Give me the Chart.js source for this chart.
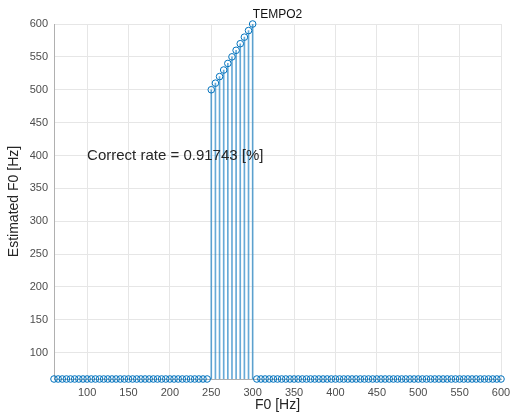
<!DOCTYPE html>
<html>
<head>
  <title>TEMPO2</title>
  <script src="https://cdn.jsdelivr.net/npm/chart.js"></script>
  <style>
    body { margin: 0; background: #fff; }
    #wrap { width: 512px; height: 414px; }
  </style>
</head>
<body>
  <div id="wrap"><canvas id="stemChart" width="512" height="414"></canvas></div>
  <script>
    // true F0 (x) and estimated F0 (y), 5 Hz steps
    const trueF0 = [
      60, 65, 70, 75, 80, 85, 90, 95, 100, 105, 110, 115, 120, 125, 130, 135, 140, 145,
      150, 155, 160, 165, 170, 175, 180, 185, 190, 195, 200, 205, 210, 215, 220, 225,
      230, 235, 240, 245, 250, 255, 260, 265, 270, 275, 280, 285, 290, 295, 300, 305,
      310, 315, 320, 325, 330, 335, 340, 345, 350, 355, 360, 365, 370, 375, 380, 385,
      390, 395, 400, 405, 410, 415, 420, 425, 430, 435, 440, 445, 450, 455, 460, 465,
      470, 475, 480, 485, 490, 495, 500, 505, 510, 515, 520, 525, 530, 535, 540, 545,
      550, 555, 560, 565, 570, 575, 580, 585, 590, 595, 600
    ];
    const estF0 = [
      60, 60, 60, 60, 60, 60, 60, 60, 60, 60, 60, 60, 60, 60, 60, 60, 60, 60,
      60, 60, 60, 60, 60, 60, 60, 60, 60, 60, 60, 60, 60, 60, 60, 60,
      60, 60, 60, 60, 500, 510, 520, 530, 540, 550, 560, 570, 580, 590, 600, 60,
      60, 60, 60, 60, 60, 60, 60, 60, 60, 60, 60, 60, 60, 60, 60, 60,
      60, 60, 60, 60, 60, 60, 60, 60, 60, 60, 60, 60, 60, 60, 60, 60,
      60, 60, 60, 60, 60, 60, 60, 60, 60, 60, 60, 60, 60, 60, 60, 60,
      60, 60, 60, 60, 60, 60, 60, 60, 60, 60, 60
    ];
    const xTicks = [100, 150, 200, 250, 300, 350, 400, 450, 500, 550, 600];
    const yTicks = [100, 150, 200, 250, 300, 350, 400, 450, 500, 550, 600];
    const plotTitle = "TEMPO2";
    const noteText = "Correct rate = 0.91743 [%]";
    const notePos = { x: 100, y: 400 };

    const points = trueF0.map((x, i) => ({ x: x, y: estF0[i] }));
    const blue = "#0072BD";
    const font = "'Liberation Sans', Arial, sans-serif";

    const extras = {
      id: "extras",
      afterDraw(chart) {
        const ctx = chart.ctx;
        const a = chart.chartArea;
        ctx.save();
        ctx.fillStyle = "#111";
        ctx.font = "12px " + font;
        ctx.textAlign = "center";
        ctx.textBaseline = "bottom";
        ctx.fillText(plotTitle, (a.left + a.right) / 2, a.top - 3);
        ctx.font = "15px " + font;
        ctx.fillStyle = "#262626";
        ctx.textAlign = "left";
        ctx.textBaseline = "middle";
        ctx.fillText(noteText, chart.scales.x.getPixelForValue(notePos.x), chart.scales.y.getPixelForValue(notePos.y));
        ctx.restore();
      }
    };

    const keepTicks = list => scale => {
      scale.ticks = list.map(v => ({ value: v }));
    };

    new Chart(document.getElementById("stemChart"), {
      type: "bar",
      data: {
        datasets: [
          {
            type: "line",
            data: points,
            showLine: false,
            pointStyle: "circle",
            pointRadius: 3.3,
            pointBorderWidth: 1,
            pointBorderColor: blue,
            pointBackgroundColor: "rgba(255,255,255,0)",
            clip: false,
            order: 0
          },
          {
            type: "bar",
            data: points,
            barThickness: 1,
            backgroundColor: "rgba(0,114,189,0.6)",
            borderWidth: 0,
            order: 1
          }
        ]
      },
      plugins: [extras],
      options: {
        responsive: false,
        animation: false,
        events: [],
        layout: { padding: { top: 24, right: 11, left: 4, bottom: 0 } },
        plugins: { legend: { display: false }, tooltip: { enabled: false } },
        scales: {
          x: {
            type: "linear",
            offset: false,
            min: 60,
            max: 600,
            afterBuildTicks: keepTicks(xTicks),
            afterFit: s => { s.height = 35; s.paddingRight = 0; s.paddingLeft = 0; },
            grid: { color: "#e6e6e6", drawTicks: false, offset: false },
            border: { color: "#b0b0b0" },
            ticks: { color: "#4d4d4d", padding: 7, font: { family: font, size: 11 } },
            title: { display: true, text: "F0 [Hz]", color: "#262626", padding: 0, font: { family: font, size: 14 } }
          },
          y: {
            type: "linear",
            min: 60,
            max: 600,
            afterBuildTicks: keepTicks(yTicks),
            afterFit: s => { s.width = 50; s.paddingTop = 0; s.paddingBottom = 0; },
            grid: { color: "#e6e6e6", drawTicks: false },
            border: { color: "#b0b0b0" },
            ticks: { color: "#4d4d4d", padding: 6, font: { family: font, size: 11 } },
            title: { display: true, text: "Estimated F0 [Hz]", color: "#262626", padding: 2, font: { family: font, size: 14 } }
          }
        }
      }
    });
  </script>
</body>
</html>
